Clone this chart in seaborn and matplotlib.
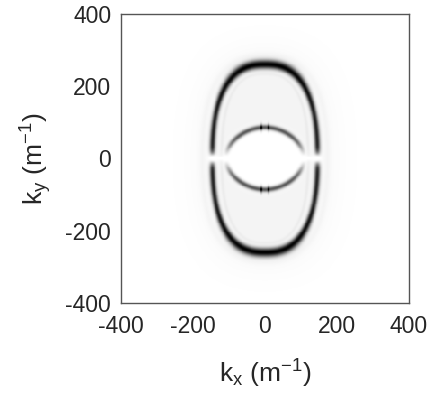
import numpy as np
import pandas as pd
import matplotlib
matplotlib.use("Agg")
import matplotlib.pyplot as plt
import seaborn as sns

# ── Chart values ──────────────────────────────────────────────────────────────
k_limits    = [-400, 400]
tick_values = [-400, -200, 0, 200, 400]
n_cells     = 320

outer_axes  = [146, 260]     # semi-axes of the outer contour (kx, ky)
outer_power = 2.5            # superellipse exponent of the outer contour
inner_axes  = [108, 86]      # semi-axes of the inner contour (kx, ky)
inner_power = 1.9
ring_width  = [8, 13, 7]     # outer side, outer cap, inner (in m^-1)
ring_level  = [1.0, 0.65]    # peak darkness (outer, inner)
fill_level  = 0.045          # light fill between the contours
halo_level  = 0.045          # faint glow outside the outer contour
cusp_kx     = 10             # small crossings on the inner contour


def contour_distance(x, y, a, b, p):
    """Approximate distance (in m^-1) to a superellipse |x/a|^p + |y/b|^p = 1."""
    u, v = x / a + 1e-9, y / b + 1e-9
    f = (u ** p + v ** p) ** (1 / p)
    gx = f ** (1 - p) * u ** (p - 1) / a
    gy = f ** (1 - p) * v ** (p - 1) / b
    return (f - 1) / np.sqrt(gx ** 2 + gy ** 2)


def intensity_map():
    step = (k_limits[1] - k_limits[0]) / n_cells
    centers = k_limits[0] + step * (np.arange(n_cells) + 0.5)
    kx, ky = np.meshgrid(centers, centers[::-1])
    ax_, ay_ = np.abs(kx), np.abs(ky)

    do = contour_distance(ax_, ay_, outer_axes[0], outer_axes[1], outer_power)
    di = contour_distance(ax_, ay_, inner_axes[0], inner_axes[1], inner_power)
    capfrac = np.clip((ay_ - 120) / (outer_axes[1] - 120), 0, 1)
    wo = ring_width[0] + (ring_width[1] - ring_width[0]) * capfrac ** 2

    # background: light fill inside the outer contour, faint halo outside
    bg = np.where(do < 0, fill_level, halo_level * np.exp(-do / 45))
    bg += 0.035 * np.exp(-((do + 26) / 5) ** 2)      # pale band inside the ring
    bg += 0.02 * np.exp(-((do - 28) / 8) ** 2)       # pale band outside the ring
    bg *= 1 / (1 + np.exp(-di / 2))
    bg *= 1 - np.exp(-(do / (1.7 * wo)) ** 2)
    bg *= 1 - np.exp(-(di / 12) ** 2)

    fade_o = 1 - np.exp(-(ky / 18) ** 2)
    fade_i = 1 - np.exp(-(ky / 35) ** 2)
    outer = ring_level[0] * (0.85 + 0.15 * capfrac) * fade_o * np.exp(-(do / wo) ** 2)
    inner = ring_level[1] * fade_i * np.exp(-(di / ring_width[2]) ** 2)
    cusps = 0.4 * np.exp(-((ax_ - cusp_kx) / 3) ** 2) * np.exp(-((ay_ - inner_axes[1]) / 10) ** 2)

    img = np.clip(bg + outer + inner + cusps, 0, 1)
    streak = np.exp(-(ky / 7) ** 2) * np.exp(-(np.clip(ax_ - 140, 0, None) / 15) ** 2)
    img *= 1 - 0.97 * streak
    return pd.DataFrame(img, index=centers[::-1], columns=centers), step


sns.set_theme(style="white")
plt.rcParams["font.family"] = ["Liberation Sans", "DejaVu Sans"]
plt.rcParams["mathtext.fontset"] = "custom"
plt.rcParams["mathtext.rm"] = "Liberation Sans"
plt.rcParams["mathtext.it"] = "Liberation Sans"

data, step = intensity_map()

fig = plt.figure(figsize=(4.35, 3.96), dpi=100)
ax = fig.add_axes([0.278, 0.235, 0.662, 0.730])
sns.heatmap(data, ax=ax, cmap="gray_r", vmin=0, vmax=1, cbar=False,
            xticklabels=False, yticklabels=False, rasterized=True)

ax.set_xticks([(v - k_limits[0]) / step for v in tick_values])
ax.set_xticklabels([str(v) for v in tick_values], rotation=0)
ax.set_yticks([(k_limits[1] - v) / step for v in tick_values])
ax.set_yticklabels([str(v) for v in tick_values], rotation=0)
ax.tick_params(length=0, labelsize=16.5, colors="#262626")
ax.tick_params(axis="y", pad=7)
ax.tick_params(axis="x", pad=9)

for s in ax.spines.values():
    s.set_visible(True)
    s.set_color("#555555")
    s.set_linewidth(1.0)

ax.set_xlabel(r"$\mathregular{k_x\ (m^{-1})}$", fontsize=19, color="#262626", labelpad=14)
ax.set_ylabel(r"$\mathregular{k_y\ (m^{-1})}$", fontsize=19, color="#262626", labelpad=8)

fig.savefig("out.png", dpi=100)
